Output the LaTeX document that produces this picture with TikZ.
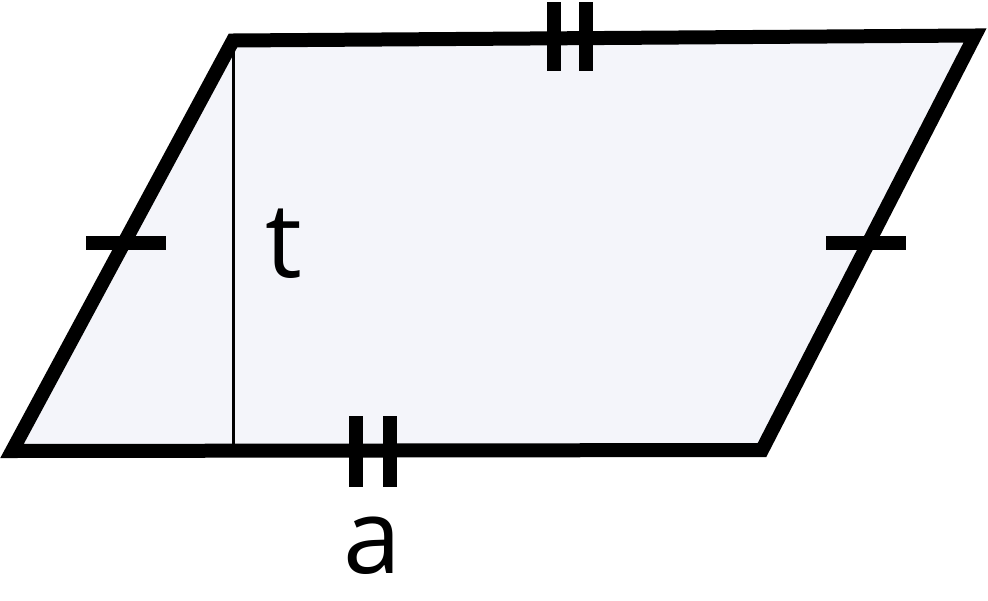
\documentclass[tikz,border=0pt]{standalone}
\usepackage{fontspec}
\setmainfont{Open Sans}
\definecolor{fillc}{RGB}{244,245,250}
\begin{document}
\begin{tikzpicture}[x=1pt,y=-1pt,
  edge/.style={line width=14pt,line join=miter},
  tick/.style={line width=14pt,line cap=butt},
  height/.style={line width=3pt},
  lbl/.style={font=\fontsize{104}{120}\selectfont,inner sep=0pt}]
\useasboundingbox (0,0) rectangle (988,600);
\coordinate (A) at (12,451);
\coordinate (B) at (762,450);
\coordinate (C) at (975,35.5);
\coordinate (D) at (233,40.5);
\coordinate (H) at (233,451);
\fill[fillc] (A) -- (B) -- (C) -- (D) -- cycle;
\draw[height] (D) -- (H);
\draw[edge] (A) -- (B) -- (C) -- (D) -- cycle;
% single ticks
\draw[tick] (86,243) -- (166,243);
\draw[tick] (826,243) -- (906,243);
% double ticks bottom
\draw[tick] (356,416) -- (356,487);
\draw[tick] (389.5,416) -- (389.5,487);
% double ticks top
\draw[tick] (554,2) -- (554,71);
\draw[tick] (586,2) -- (586,71);
\node[lbl,anchor=base] (t) at (284,277) {t};
\node[lbl,anchor=base] (a) at (372,573) {a};
\end{tikzpicture}
\end{document}
